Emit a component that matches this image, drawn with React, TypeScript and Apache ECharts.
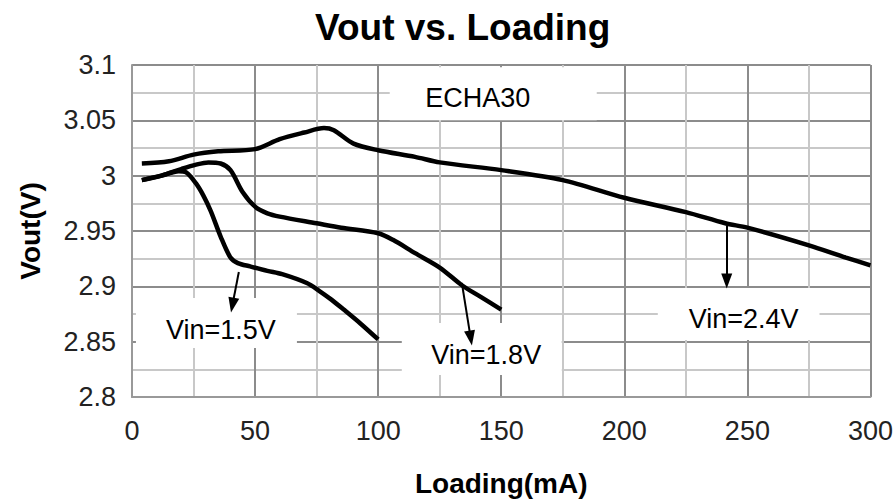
import React, { useEffect, useRef } from 'react';
import * as echarts from 'echarts';

const loadingTicks = [0, 50, 100, 150, 200, 250, 300];
const voutTicks = [2.8, 2.85, 2.9, 2.95, 3.0, 3.05, 3.1];

const vin24: [number, number][] = [
  [4, 3.011], [15, 3.013], [25, 3.019], [35, 3.022], [50, 3.024], [60, 3.033],
  [70, 3.039], [78, 3.043], [82, 3.041], [90, 3.029], [100, 3.023], [115, 3.017],
  [125, 3.012], [150, 3.005], [175, 2.996], [200, 2.980], [225, 2.967], [241, 2.957],
  [250, 2.953], [275, 2.937], [290, 2.926], [300, 2.919],
];

const vin18: [number, number][] = [
  [4, 2.996], [12, 3.0], [20, 3.006], [26, 3.010], [31, 3.012], [36, 3.011],
  [40, 3.005], [45, 2.985], [50, 2.972], [55, 2.966], [60, 2.963], [75, 2.957],
  [85, 2.953], [100, 2.948], [106, 2.942], [115, 2.930], [125, 2.917], [134, 2.901],
  [142, 2.890], [150, 2.879],
];

const vin15: [number, number][] = [
  [4, 2.996], [12, 3.0], [19, 3.004], [22, 3.003], [26, 2.993], [29, 2.982],
  [32, 2.968], [36, 2.945], [40, 2.926], [43, 2.921], [48, 2.918], [55, 2.914],
  [61, 2.911], [71, 2.903], [76, 2.896], [81, 2.888], [86, 2.879], [93, 2.866],
  [100, 2.852],
];

const noteLabels = ['ECHA30', 'Vin=1.5V', 'Vin=1.8V', 'Vin=2.4V'];
const noteCenters: [number, number][] = [
  [140.5, 3.07], [36.1, 2.8605], [143.9, 2.838], [248.5, 2.8705],
];
const noteBoxes: [[number, number], [number, number]][] = [
  [[104.7, 3.098], [188.8, 3.05]],
  [[1.6, 2.8895], [67, 2.8443]],
  [[109.6, 2.8669], [174.6, 2.8199]],
  [[213.6, 2.8985], [279.3, 2.8515]],
];
const arrowStarts: [number, number][] = [[43.4, 2.913], [134.0, 2.903], [241.6, 2.9545]];
const arrowEnds: [number, number][] = [[40.8, 2.8831], [137.6, 2.8532], [241.6, 2.9048]];

const FONT = '"Liberation Sans", Arial, sans-serif';

export default function App() {
  const ref = useRef<HTMLDivElement>(null);
  useEffect(() => {
    if (!ref.current) return;
    const chart = echarts.init(ref.current, undefined, { renderer: 'svg' });
    const curve = (name: string, data: [number, number][]) => ({
      name,
      type: 'line',
      data,
      smooth: 0.3,
      showSymbol: false,
      symbol: 'none',
      lineStyle: { color: '#000', width: 4.5 },
      z: 3,
    });
    chart.setOption({
      animation: false,
      backgroundColor: '#fff',
      title: {
        text: 'Vout vs. Loading',
        left: 315,
        top: 9,
        padding: 0,
        textStyle: { fontFamily: FONT, fontSize: 37, fontWeight: 'bold', color: '#000' },
      },
      grid: { left: 132, right: 25, top: 65, bottom: 107 },
      xAxis: {
        type: 'value',
        min: loadingTicks[0],
        max: loadingTicks[loadingTicks.length - 1],
        interval: loadingTicks[1] - loadingTicks[0],
        name: 'Loading(mA)',
        nameLocation: 'middle',
        nameGap: 72,
        nameTextStyle: { fontFamily: FONT, fontSize: 28, fontWeight: 'bold', color: '#000' },
        axisLine: { show: true, lineStyle: { color: '#999', width: 2 } },
        axisTick: { show: false },
        axisLabel: { fontFamily: FONT, fontSize: 27, color: '#222', margin: 20 },
        splitLine: { show: true, lineStyle: { color: '#8c8c8c', width: 2 } },
        minorTick: { show: false, splitNumber: 2 },
        minorSplitLine: { show: true, lineStyle: { color: '#c8c8c8', width: 2 } },
      },
      yAxis: {
        type: 'value',
        min: voutTicks[0],
        max: voutTicks[voutTicks.length - 1],
        interval: 0.05,
        name: 'Vout(V)',
        nameLocation: 'middle',
        nameRotate: 90,
        nameGap: 88,
        nameTextStyle: { fontFamily: FONT, fontSize: 28, fontWeight: 'bold', color: '#000' },
        axisLine: { show: true, lineStyle: { color: '#999', width: 2 } },
        axisTick: { show: false },
        axisLabel: { fontFamily: FONT, fontSize: 27, color: '#222', margin: 16 },
        splitLine: { show: true, lineStyle: { color: '#8c8c8c', width: 2 } },
        minorTick: { show: false, splitNumber: 2 },
        minorSplitLine: { show: true, lineStyle: { color: '#c8c8c8', width: 2 } },
      },
      series: [
        {
          name: 'annotations',
          type: 'line',
          data: [],
          silent: true,
          z: 2,
          markArea: {
            silent: true,
            itemStyle: { color: '#fff', opacity: 1, borderWidth: 0 },
            label: { show: false },
            data: noteBoxes.map((b) => [{ coord: b[0] }, { coord: b[1] }]),
          },
          markPoint: {
            silent: true,
            symbol: 'rect',
            symbolSize: 1,
            itemStyle: { color: 'rgba(0,0,0,0)' },
            label: {
              show: true,
              position: 'inside',
              formatter: '{b}',
              fontFamily: FONT,
              fontSize: 27,
              color: '#000',
            },
            data: noteLabels.map((t, i) => ({ name: t, coord: noteCenters[i], value: 0 })),
          },
          markLine: {
            silent: true,
            symbol: ['none', 'triangle'],
            symbolSize: [11, 15],
            lineStyle: { color: '#000', width: 2, type: 'solid' },
            label: { show: false },
            data: arrowStarts.map((s, i) => [
              { coord: s, symbol: 'none' },
              { coord: arrowEnds[i], symbol: 'triangle' },
            ]),
          },
        },
        curve('Vin=2.4V', vin24),
        curve('Vin=1.8V', vin18),
        curve('Vin=1.5V', vin15),
      ],
    });
    return () => chart.dispose();
  }, []);
  return (
    <div
      ref={ref}
      style={{ position: 'fixed', left: 0, top: 0, width: 896, height: 504 }}
    />
  );
}
